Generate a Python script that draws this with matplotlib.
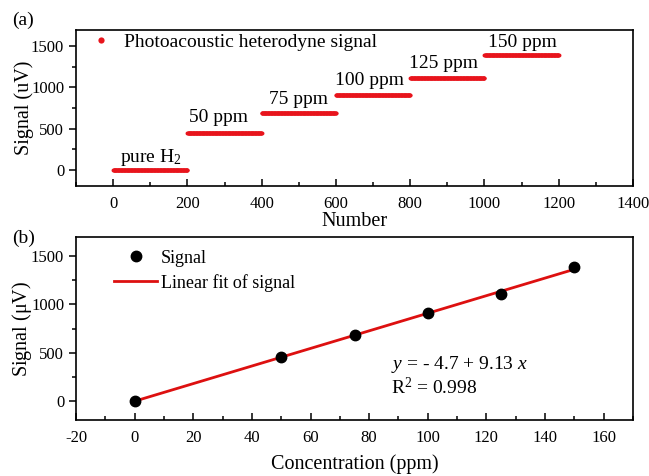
import numpy as np
import matplotlib
matplotlib.use('Agg')
import matplotlib.pyplot as plt
from matplotlib.ticker import MultipleLocator

plt.rcParams['font.family'] = ['Liberation Serif', 'DejaVu Serif']
plt.rcParams['mathtext.fontset'] = 'custom'
plt.rcParams['mathtext.rm'] = 'Liberation Serif'
plt.rcParams['mathtext.it'] = 'Liberation Serif:italic'
plt.rcParams['axes.unicode_minus'] = False

# panel (a): measurement segments
seg_start = [0, 200, 400, 600, 800, 1000]
seg_end = [200, 400, 600, 800, 1000, 1200]
seg_level = [0, 448, 685, 912, 1112, 1392]
seg_label = ['pure H$_2$', '50 ppm', '75 ppm', '100 ppm', '125 ppm', '150 ppm']
label_x = [101, 283, 499, 690, 890, 1101]
label_y = [150, 629, 859, 1089, 1294, 1548]

# panel (b): concentration vs signal
conc = [0, 50, 75, 100, 125, 150]
signal = [0, 450, 682, 912, 1105, 1392]
fit_a = -4.7
fit_b = 9.13

fig = plt.figure(figsize=(6.49, 4.76), dpi=100)
ax1 = fig.add_axes([76 / 649, 1 - 186 / 476, 557 / 649, 156 / 476])
ax2 = fig.add_axes([76 / 649, 1 - 420 / 476, 557 / 649, 183 / 476])

for i in range(len(seg_start)):
    xs = np.arange(seg_start[i], seg_end[i] + 1)
    ys = np.full(len(xs), seg_level[i], dtype=float)
    ax1.plot(xs, ys, 'o', color='#e8141c', ms=2.8, mec='none',
             label='Photoacoustic heterodyne signal' if i == 0 else None)
    ax1.text(label_x[i], label_y[i], seg_label[i], ha='center', va='center', fontsize=14)

ax1.set_xlim(-100, 1400)
ax1.set_ylim(-200, 1700)
ax1.set_xlabel('Number', fontsize=14.5, labelpad=0)
ax1.set_ylabel('Signal (uV)', fontsize=14.5, labelpad=-2)
ax1.legend(loc='upper left', frameon=False, fontsize=14, markerscale=1.6,
           handletextpad=0.6, borderaxespad=0.0, handlelength=1.2,
           bbox_to_anchor=(0.01, 1.03))

ax2.plot(conc, signal, 'o', color='black', ms=7.5, label='Signal', zorder=3)
fx = np.array([conc[0], conc[-1]])
ax2.plot(fx, fit_a + fit_b * fx, color='#dd1010', lw=2, label='Linear fit of signal', zorder=2)
ax2.set_xlim(-20, 170)
ax2.set_ylim(-200, 1700)
ax2.set_xlabel('Concentration (ppm)', fontsize=14.5, labelpad=6)
ax2.set_ylabel('Signal ($\\mathregular{\\mu}$V)', fontsize=14.5, labelpad=-2)
ax2.legend(loc='upper left', frameon=False, fontsize=13, handlelength=2.4,
           handletextpad=0.2, borderaxespad=0.0, bbox_to_anchor=(0.055, 0.97),
           labelspacing=0.4)
ax2.text(0.565, 0.305, '$\\mathit{y}$ = - 4.7 + 9.13 $\\mathit{x}$', transform=ax2.transAxes,
         fontsize=14, va='center')
ax2.text(0.565, 0.175, 'R$^2$ = 0.998', transform=ax2.transAxes, fontsize=14, va='center')

ax1.xaxis.set_major_locator(MultipleLocator(200))
ax1.xaxis.set_minor_locator(MultipleLocator(100))
ax1.yaxis.set_major_locator(MultipleLocator(500))
ax1.yaxis.set_minor_locator(MultipleLocator(250))
ax2.xaxis.set_major_locator(MultipleLocator(20))
ax2.xaxis.set_minor_locator(MultipleLocator(10))
ax2.yaxis.set_major_locator(MultipleLocator(500))
ax2.yaxis.set_minor_locator(MultipleLocator(250))

for ax in (ax1, ax2):
    for s in ax.spines.values():
        s.set_linewidth(1.2)
    ax.tick_params(axis='x', which='both', direction='in', labelsize=12, width=1.1, pad=7)
    ax.tick_params(axis='x', which='major', length=5)
    ax.tick_params(axis='x', which='minor', length=3)
    ax.tick_params(axis='y', which='both', direction='out', labelsize=12, width=1.1)
    ax.tick_params(axis='y', which='major', length=5)
    ax.tick_params(axis='y', which='minor', length=3)

fig.text(12 / 649, 1 - 20 / 476, '(a)', fontsize=14, va='center')
fig.text(12 / 649, 1 - 238 / 476, '(b)', fontsize=14, va='center')

fig.savefig('out.png', dpi=100)
